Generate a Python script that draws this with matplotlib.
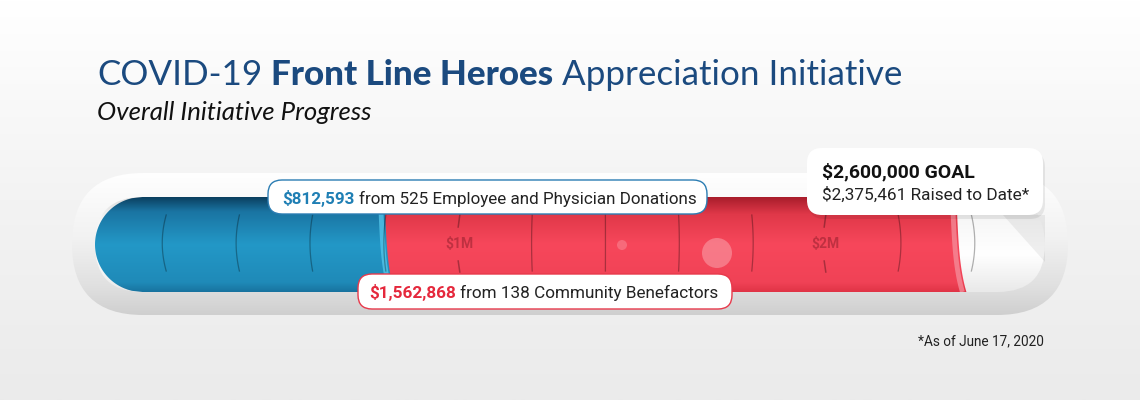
import numpy as np
import matplotlib
matplotlib.use("Agg")
import matplotlib.pyplot as plt
from matplotlib.patches import FancyBboxPatch, Polygon, Ellipse
from matplotlib.colors import LinearSegmentedColormap

# ───────── data ─────────
goal = 2_600_000
raised = 2_375_461
employee_amt = 812_593
employee_n = 525
community_amt = 1_562_868
community_n = 138
tick_values = [200_000, 400_000, 600_000, 800_000, 1_000_000, 1_200_000,
               1_400_000, 1_600_000, 1_800_000, 2_000_000, 2_200_000, 2_400_000]
milestones = [1_000_000, 2_000_000]
milestone_labels = ['$1M', '$2M']
as_of = 'June 17, 2020'

# ───────── layout (pixels) ─────────
W, H = 1140, 400
X0 = 93            # pixel where $0 sits
S = 366e-6         # pixels per dollar
PX = 1 / S         # dollars per pixel
TOP, BOT = 197, 292
CY = (TOP + BOT) / 2
R = (BOT - TOP) / 2

NAVY = '#1b4a7f'
BLUE_TXT = '#1f7fb4'
RED_TXT = '#e5283c'
DARK = '#222222'

fig = plt.figure(figsize=(W / 100, H / 100), dpi=100)
ax_bg = fig.add_axes([0, 0, 1, 1])
ax = fig.add_axes([0, 0, 1, 1])
ax_top = fig.add_axes([0, 0, 1, 1])
for a in (ax_bg, ax_top):
    a.set_xlim(0, W)
    a.set_ylim(H, 0)
for a in (ax_bg, ax, ax_top):
    a.axis('off')
    a.patch.set_visible(False)


def grad(stops):
    return LinearSegmentedColormap.from_list('g', stops)


def vgrad(a, stops, extent, clip=None, z=1):
    img = a.imshow(np.linspace(0, 1, 256).reshape(-1, 1), cmap=grad(stops),
                   extent=extent, origin='upper', aspect='auto', zorder=z,
                   interpolation='bilinear')
    if clip is not None:
        img.set_clip_path(clip)
    return img


# background
vgrad(ax_bg, ['#ffffff', '#f3f3f3', '#ebebeb'], (0, W, H, 0), z=0)

# outer frame of the tube
frame = FancyBboxPatch((72, 173), 996, 142, boxstyle='round,pad=0,rounding_size=71',
                       fc='none', ec='none', zorder=1)
ax_bg.add_patch(frame)
vgrad(ax_bg, [(0, '#ffffff'), (0.45, '#f2f2f2'), (0.8, '#e0e0e0'), (1, '#cfcfcf')],
      (72, 1068, 315, 173), clip=frame, z=1)

# inner (empty) tube
inner = FancyBboxPatch((95, TOP), 950, BOT - TOP, boxstyle=f'round,pad=0,rounding_size={R}',
                       fc='none', ec='none', zorder=2)
ax_bg.add_patch(inner)
vgrad(ax_bg, [(0, '#dcdcdc'), (0.25, '#f7f7f7'), (0.6, '#ffffff'), (1, '#e9e9e9')],
      (95, 1045, BOT, TOP), clip=inner, z=2)
# shadow cast by the goal box
ax_bg.add_patch(Polygon([(1003, 215), (1045, 215), (1045, 262)], closed=True,
                        fc='#000000', alpha=0.06, ec='none', zorder=3))

# ───────── liquid bars ─────────
ys = np.linspace(TOP, BOT, 80)
t = (ys - TOP) / (BOT - TOP)
meniscus = (-6 + 4 * t + 6 * t ** 4) * PX


def liquid(start, end, stops, edge, z, round_left=False):
    right = end + meniscus
    if round_left:
        left_px = 95 + R - np.sqrt(np.maximum(R ** 2 - (ys - CY) ** 2, 0))
        left = (left_px - X0) * PX
    else:
        left = start + meniscus - 14 * PX
    poly = Polygon(np.column_stack([np.r_[left, right[::-1]], np.r_[ys, ys[::-1]]]),
                   closed=True, fc='none', ec='none')
    ax.add_patch(poly)
    vgrad(ax, stops, (left.min(), right.max(), BOT, TOP), clip=poly, z=z)
    ln, = ax.plot(right - 4 * PX, ys, color=edge, lw=3.5, alpha=0.75, zorder=z + 0.1,
                  solid_capstyle='butt')
    ln.set_clip_path(poly)


liquid(employee_amt, raised,
       [(0, '#a81d2b'), (0.18, '#e03849'), (0.5, '#f7475b'), (0.9, '#f04256'), (1, '#e03446')],
       '#f58f9c', z=3)
liquid(0, employee_amt,
       [(0, '#0b3f5f'), (0.15, '#1a74a2'), (0.5, '#2398c7'), (0.9, '#1f8ab8'), (1, '#18739f')],
       '#56c8ec', z=4, round_left=True)

# bubbles
for bx, by, br, al in [(622, 245, 5, 0.2), (717, 253, 15, 0.28)]:
    ax.add_patch(Ellipse(((bx - X0) * PX, by), 2 * br * PX, 2 * br,
                         fc='#ffffff', ec='none', alpha=al, zorder=5))

# ───────── ticks ─────────
for v in tick_values:
    px = X0 + v * S
    bulge = (px - 600) / 110
    if v in milestones:
        lab = milestone_labels[milestones.index(v)]
        for y1, y2, d in [(215, 227, -1), (261, 272, 1)]:
            ax.plot([v - d * 0.8 * PX, v + d * 0.8 * PX], [y1, y2], color='#000000',
                    alpha=0.3, lw=1.1, zorder=6)
        ax.text(v, CY - 1, lab, ha='center', va='center', fontsize=10, fontweight='bold',
                family='Roboto', color='#5a0a14', alpha=0.35, zorder=6)
    else:
        yy = np.linspace(215, 271, 30)
        xx = v + bulge * (1 - ((yy - 243) / 28) ** 2) * PX
        ax.plot(xx, yy, color='#000000', alpha=0.3, lw=0.9, zorder=6)

ax.set_xlim(-X0 * PX, (W - X0) * PX)
ax.set_ylim(H, 0)

# ───────── text helpers ─────────
renderer = fig.canvas.get_renderer()


def wpx(a, s, kw):
    tt = a.text(0, 0, s, **kw)
    w = tt.get_window_extent(renderer).width
    tt.remove()
    return w


def runs(a, x, y, parts, width, z=8):
    def place(scale):
        arts, cx = [], x
        for i, (s, kw) in enumerate(parts):
            kw = dict(kw, fontsize=kw['fontsize'] * scale)
            tt = a.text(cx, y, s, ha='left', va='baseline', zorder=z, **kw)
            arts.append(tt)
            cx += tt.get_window_extent(renderer).width
            if i < len(parts) - 1:
                cx += wpx(a, 'x x', kw) - wpx(a, 'xx', kw)
        return arts, cx - x
    arts, w = place(1.0)
    for tt in arts:
        tt.remove()
    arts, _ = place(width / w)
    return arts


# title
light = dict(family='Lato', fontweight='normal', color=NAVY, fontsize=26)
heavy = dict(family='Lato', fontweight='black', color=NAVY, fontsize=26)
runs(ax_top, 97, 85, [('COVID-19', light), ('Front Line Heroes', heavy),
                      ('Appreciation Initiative', light)], 803)
runs(ax_top, 97, 120, [('Overall Initiative Progress',
                        dict(family='Lato', style='italic', fontweight='normal',
                             color='#111111', fontsize=16))], 275)

# employee label
ax_top.add_patch(FancyBboxPatch((268, 180), 439, 34, boxstyle='round,pad=0,rounding_size=14',
                                fc='white', ec='#2b7db3', lw=1, zorder=7))
reg = dict(family='Roboto', color=DARK, fontsize=12)
runs(ax_top, 282, 204,
     [(f'${employee_amt:,}', dict(reg, fontweight='bold', color=BLUE_TXT)),
      (f'from {employee_n} Employee and Physician Donations', reg)], 413)

# community label
ax_top.add_patch(FancyBboxPatch((358, 274), 374, 35, boxstyle='round,pad=0,rounding_size=14',
                                fc='white', ec='#e8394b', lw=1, zorder=7))
runs(ax_top, 369, 298,
     [(f'${community_amt:,}', dict(reg, fontweight='bold', color=RED_TXT)),
      (f'from {community_n} Community Benefactors', reg)], 349)

# goal box
ax_top.add_patch(FancyBboxPatch((809, 152), 236, 67, boxstyle='round,pad=0,rounding_size=15',
                                fc='#000000', ec='none', alpha=0.07, zorder=6))
ax_top.add_patch(FancyBboxPatch((807, 148), 236, 67, boxstyle='round,pad=0,rounding_size=15',
                                fc='white', ec='none', zorder=7))
runs(ax_top, 822, 177, [(f'${goal:,} GOAL', dict(reg, fontweight='bold', color='#111111'))], 153)
runs(ax_top, 822, 200, [(f'${raised:,} Raised to Date*', reg)], 206)

# footnote
runs(ax_top, 918, 345, [(f'*As of {as_of}', dict(reg, fontsize=10))], 127)

fig.savefig('out.png', dpi=100)
